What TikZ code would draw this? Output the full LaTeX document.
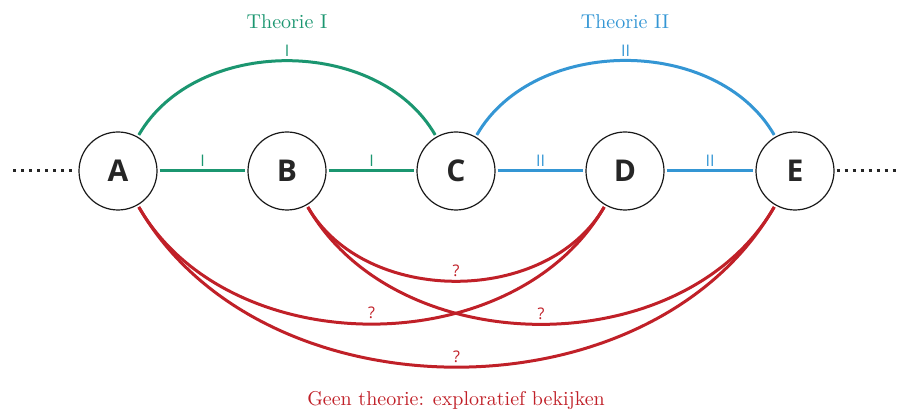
\documentclass[tikz,border=0pt]{standalone}
\usepackage{fontspec}
\newfontfamily\labfont{Open Sans}
\definecolor{tgreen}{RGB}{27,150,112}
\definecolor{tblue}{RGB}{52,150,212}
\definecolor{tred}{RGB}{192,32,40}
\begin{document}
\begin{tikzpicture}[x=0.5pt,y=-0.5pt,
  vnode/.style={circle,draw=black!90,line width=0.6pt,minimum size=39pt,inner sep=0pt,font=\labfont\bfseries\fontsize{15}{17}\selectfont,text=black!85},
  gline/.style={draw=tgreen,line width=1.5pt,shorten <=1pt,shorten >=1pt},
  bline/.style={draw=tblue,line width=1.5pt,shorten <=1pt,shorten >=1pt},
  rline/.style={draw=tred,line width=1.5pt,shorten <=1pt,shorten >=1pt},
  elab/.style={font=\labfont\fontsize{8}{9}\selectfont,inner sep=1.5pt,above},
  dots/.style={line width=1.5pt,dash pattern=on 1.5pt off 2.5pt,black!85}]
\useasboundingbox (0,0) rectangle (904,410);
\node[vnode] (A) at (118,171) {A};
\node[vnode] (B) at (287,171) {B};
\node[vnode] (C) at (456,171) {C};
\node[vnode] (D) at (625,171) {D};
\node[vnode] (E) at (795,171) {E};
\coordinate (L) at (13,171);
\coordinate (R) at (897,171);
\draw[dots] (L) -- ([xshift=-3pt]A.west);
\draw[dots] ([xshift=1pt]E.east) -- (R);
% green
\draw[gline,text=tgreen] (A) -- node[elab]{I} (B);
\draw[gline,text=tgreen] (B) -- node[elab]{I} (C);
\draw[gline,text=tgreen] (A.60) to[out=60,in=120] node[elab]{I} (C.120);
% blue
\draw[bline,text=tblue] (C) -- node[elab]{II} (D);
\draw[bline,text=tblue] (D) -- node[elab]{II} (E);
\draw[bline,text=tblue] (C.60) to[out=60,in=120] node[elab]{II} (E.120);
% red
\draw[rline,text=tred] (A.-60) to[out=-60,in=-120] node[elab]{?} (D.-120);
\draw[rline,text=tred] (A.-60) to[out=-60,in=-120] node[elab]{?} (E.-120);
\draw[rline,text=tred] (B.-60) to[out=-60,in=-120] node[elab]{?} (D.-120);
\draw[rline,text=tred] (B.-60) to[out=-60,in=-120] node[elab]{?} (E.-120);
% titles
\node[text=tgreen] (t1) at (287,22) {Theorie I};
\node[text=tblue] (t2) at (625,22) {Theorie II};
\node[text=tred] (t3) at (456,401) {Geen theorie: exploratief bekijken};
\end{tikzpicture}
\end{document}
